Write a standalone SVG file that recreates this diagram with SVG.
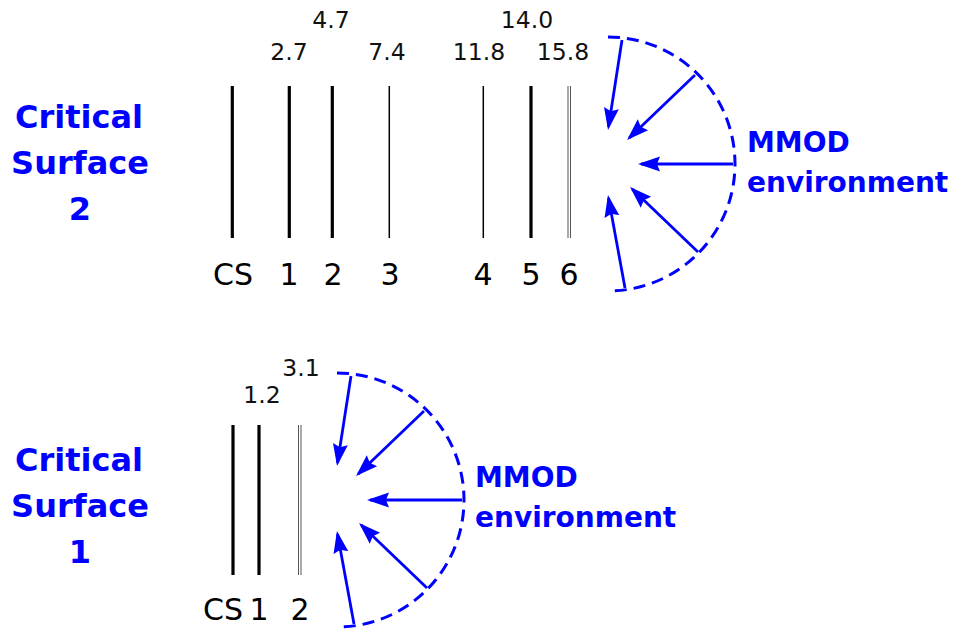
<svg xmlns="http://www.w3.org/2000/svg" width="956" height="633" viewBox="0 0 956 633">
<defs>
<style>
.thick{stroke:#000;stroke-width:3.2;fill:none}
.thin{stroke:#000;stroke-width:1.5;fill:none}
.gray{stroke:#555;stroke-width:1;fill:none}
.num{font-family:"DejaVu Sans",Verdana,sans-serif;font-size:23.5px;fill:#111;text-anchor:middle}
.lab{font-family:"DejaVu Sans",Verdana,sans-serif;font-size:30px;fill:#000;text-anchor:middle}
.blue{font-family:"DejaVu Sans",Verdana,sans-serif;font-weight:bold;font-size:32px;fill:#0000ff;text-anchor:middle}
.env{font-family:"DejaVu Sans",Verdana,sans-serif;font-weight:bold;font-size:28px;fill:#0000ff}
.arc{stroke:#0000ff;stroke-width:3;fill:none;stroke-dasharray:12 7}
.arr{stroke:#0000ff;stroke-width:2.8;fill:none;marker-end:url(#ah)}
</style>
<marker id="ah" markerUnits="userSpaceOnUse" markerWidth="24" markerHeight="18" viewBox="0 0 24 18" refX="19" refY="9" orient="auto">
<path d="M0,1.5 L22,9 L0,16.5 L3,9 z" fill="#0000ff"/>
</marker>
</defs>
<rect width="956" height="633" fill="#fff"/>

<g id="title-cs2">
<text class="blue" x="79" y="128">Critical</text>
<text class="blue" x="80" y="174">Surface</text>
<text class="blue" x="80" y="220">2</text>
</g>

<g id="layers-cs2">
<line class="thick" x1="232.3" y1="86" x2="232.3" y2="238"/>
<line class="thick" x1="289.3" y1="86" x2="289.3" y2="238"/>
<line class="thick" x1="332.3" y1="86" x2="332.3" y2="238"/>
<line class="thin" x1="389.3" y1="86" x2="389.3" y2="238"/>
<line class="thin" x1="483.3" y1="86" x2="483.3" y2="238"/>
<line class="thick" x1="531" y1="86" x2="531" y2="238"/>
<line class="gray" x1="568" y1="86" x2="568" y2="238"/>
<line class="gray" x1="570.5" y1="86" x2="570.5" y2="238"/>
<text class="num" x="331" y="28">4.7</text>
<text class="num" x="527" y="28">14.0</text>
<text class="num" x="289" y="60">2.7</text>
<text class="num" x="387" y="60">7.4</text>
<text class="num" x="479" y="60">11.8</text>
<text class="num" x="563" y="60">15.8</text>
<text class="lab" x="233" y="285">CS</text>
<text class="lab" x="289" y="285">1</text>
<text class="lab" x="333" y="285">2</text>
<text class="lab" x="390" y="285">3</text>
<text class="lab" x="483" y="285">4</text>
<text class="lab" x="531" y="285">5</text>
<text class="lab" x="569" y="285">6</text>
</g>

<g id="mmod-cs2" transform="translate(608,164)">
<path class="arc" d="M0,-127 A127,127 0 0 1 0,127"/>
<text class="env" x="139" y="-12">MMOD</text>
<text class="env" x="139" y="28">environment</text>
</g>

<g id="title-cs1">
<text class="blue" x="79" y="471">Critical</text>
<text class="blue" x="80" y="517">Surface</text>
<text class="blue" x="80" y="563">1</text>
</g>

<g id="layers-cs1">
<line class="thick" x1="233" y1="425" x2="233" y2="575"/>
<line class="thick" x1="259" y1="425" x2="259" y2="575"/>
<line class="gray" x1="298.5" y1="425" x2="298.5" y2="575"/>
<line class="gray" x1="301" y1="425" x2="301" y2="575"/>
<text class="num" x="301" y="376">3.1</text>
<text class="num" x="262" y="403">1.2</text>
<text class="lab" x="223" y="620">CS</text>
<text class="lab" x="259" y="620">1</text>
<text class="lab" x="300" y="620">2</text>
</g>

<g id="mmod-cs1" transform="translate(337,500)">
<path class="arc" d="M0,-127 A127,127 0 0 1 0,127"/>
<text class="env" x="138" y="-13">MMOD</text>
<text class="env" x="138" y="27">environment</text>
</g>

<g id="connectors">
<g transform="translate(608,164)">
<line class="arr" x1="14" y1="-124" x2="0.5" y2="-37"/>
<line class="arr" x1="87" y1="-89" x2="21.2" y2="-26.1"/>
<line class="arr" x1="125" y1="0" x2="33" y2="0"/>
<line class="arr" x1="90" y1="88" x2="24.2" y2="25.1"/>
<line class="arr" x1="17" y1="124" x2="0.5" y2="34"/>
</g>
<g transform="translate(337,500)">
<line class="arr" x1="14" y1="-124" x2="0.5" y2="-37"/>
<line class="arr" x1="87" y1="-89" x2="21.2" y2="-26.1"/>
<line class="arr" x1="125" y1="0" x2="33" y2="0"/>
<line class="arr" x1="90" y1="88" x2="24.2" y2="25.1"/>
<line class="arr" x1="17" y1="124" x2="0.5" y2="34"/>
</g>
</g>
</svg>
